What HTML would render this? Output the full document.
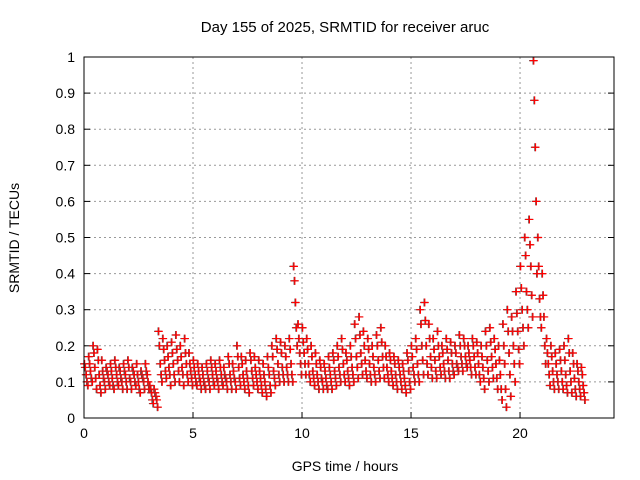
<!DOCTYPE html>
<html><head><meta charset="utf-8"><style>
body{margin:0;background:#fff}
svg{display:block;font-family:"Liberation Sans",sans-serif}
</style></head><body>
<svg id="chart" width="640" height="480">
<text x="345" y="32" text-anchor="middle" font-size="15">Day 155 of 2025, SRMTID for receiver aruc</text>
<text x="345" y="471" text-anchor="middle" font-size="14">GPS time / hours</text>
<text transform="translate(19,238) rotate(-90)" text-anchor="middle" font-size="14">SRMTID / TECUs</text>
<g id="grid"></g><g id="ticks"></g><g id="marks"></g>
<rect x="84" y="57" width="530" height="361" fill="none" stroke="#000"/>
</svg>
<script>
const xTicks=[0,5,10,15,20];
const yTicks=[0,0.1,0.2,0.3,0.4,0.5,0.6,0.7,0.8,0.9,1];
const yTickLabels=["0","0.1","0.2","0.3","0.4","0.5","0.6","0.7","0.8","0.9","1"];
const times=[0,0.2,0.4,0.6,0.8,1,1.2,1.4,1.6,1.8,2,2.2,2.4,2.6,2.8,3,3.2,3.4,3.6,3.8,4,4.2,4.4,4.6,4.8,5,5.2,5.4,5.6,5.8,6,6.2,6.4,6.6,6.8,7,7.2,7.4,7.6,7.8,8,8.2,8.4,8.6,8.8,9,9.2,9.4,9.6,9.8,10,10.2,10.4,10.6,10.8,11,11.2,11.4,11.6,11.8,12,12.2,12.4,12.6,12.8,13,13.2,13.4,13.6,13.8,14,14.2,14.4,14.6,14.8,15,15.2,15.4,15.6,15.8,16,16.2,16.4,16.6,16.8,17,17.2,17.4,17.6,17.8,18,18.2,18.4,18.6,18.8,19,19.2,19.4,19.6,19.8,20,20.2,20.4,20.6,20.8,21,21.2,21.4,21.6,21.8,22,22.2,22.4,22.6,22.8];
const hiValues=[0.15,0.17,0.2,0.19,0.16,0.14,0.15,0.16,0.14,0.15,0.16,0.14,0.15,0.13,0.15,0.09,0.08,0.24,0.22,0.2,0.21,0.23,0.2,0.22,0.18,0.16,0.15,0.14,0.15,0.16,0.15,0.16,0.14,0.17,0.15,0.2,0.17,0.16,0.18,0.17,0.16,0.15,0.17,0.2,0.22,0.21,0.2,0.22,0.42,0.26,0.25,0.22,0.2,0.18,0.16,0.15,0.17,0.18,0.2,0.22,0.18,0.2,0.26,0.28,0.24,0.22,0.2,0.23,0.25,0.2,0.18,0.17,0.16,0.15,0.18,0.2,0.22,0.3,0.32,0.26,0.22,0.24,0.2,0.22,0.21,0.2,0.23,0.22,0.2,0.22,0.21,0.2,0.24,0.25,0.22,0.2,0.26,0.3,0.28,0.35,0.42,0.5,0.55,0.99,0.5,0.4,0.22,0.2,0.18,0.19,0.2,0.22,0.18,0.15,0.14];
const upperMidValues=[0.14,0.15,0.18,0.16,0.13,0.13,0.13,0.14,0.13,0.13,0.14,0.13,0.12,0.12,0.13,0.08,0.07,0.2,0.19,0.17,0.18,0.19,0.17,0.18,0.15,0.14,0.13,0.12,0.13,0.14,0.13,0.14,0.12,0.15,0.13,0.17,0.15,0.13,0.16,0.14,0.13,0.12,0.14,0.17,0.19,0.18,0.17,0.19,0.38,0.22,0.21,0.19,0.17,0.15,0.14,0.13,0.14,0.16,0.17,0.19,0.16,0.17,0.22,0.23,0.2,0.19,0.17,0.2,0.21,0.17,0.16,0.15,0.14,0.13,0.16,0.17,0.19,0.26,0.27,0.22,0.19,0.2,0.18,0.19,0.18,0.18,0.2,0.2,0.18,0.2,0.18,0.17,0.2,0.21,0.19,0.16,0.2,0.24,0.24,0.29,0.36,0.45,0.48,0.88,0.42,0.34,0.18,0.17,0.15,0.16,0.16,0.18,0.15,0.13,0.12];
const midValues=[0.12,0.13,0.14,0.12,0.11,0.12,0.11,0.12,0.11,0.12,0.11,0.12,0.1,0.11,0.12,0.07,0.06,0.15,0.16,0.14,0.15,0.16,0.14,0.15,0.13,0.12,0.11,0.1,0.11,0.12,0.11,0.12,0.11,0.12,0.11,0.14,0.12,0.11,0.13,0.12,0.11,0.1,0.12,0.13,0.15,0.14,0.14,0.15,0.32,0.18,0.18,0.15,0.13,0.12,0.11,0.11,0.12,0.13,0.14,0.15,0.13,0.14,0.17,0.18,0.16,0.15,0.14,0.16,0.17,0.14,0.13,0.12,0.12,0.11,0.13,0.14,0.15,0.2,0.2,0.17,0.16,0.17,0.15,0.16,0.15,0.15,0.17,0.17,0.16,0.17,0.15,0.14,0.16,0.17,0.15,0.12,0.15,0.18,0.2,0.24,0.3,0.35,0.42,0.75,0.33,0.28,0.15,0.13,0.12,0.13,0.12,0.13,0.11,0.1,0.09];
const lowerMidValues=[0.1,0.11,0.11,0.09,0.1,0.1,0.09,0.1,0.1,0.1,0.1,0.1,0.08,0.1,0.1,0.05,0.05,0.12,0.13,0.12,0.12,0.13,0.12,0.12,0.11,0.1,0.1,0.09,0.1,0.1,0.1,0.1,0.1,0.1,0.1,0.11,0.1,0.09,0.11,0.1,0.09,0.08,0.09,0.11,0.12,0.12,0.12,0.12,0.25,0.15,0.15,0.12,0.11,0.1,0.1,0.09,0.1,0.11,0.12,0.12,0.11,0.12,0.14,0.15,0.13,0.12,0.12,0.13,0.14,0.12,0.11,0.1,0.1,0.09,0.1,0.12,0.12,0.16,0.15,0.14,0.13,0.14,0.13,0.13,0.13,0.14,0.15,0.15,0.14,0.14,0.12,0.11,0.13,0.14,0.11,0.08,0.08,0.12,0.15,0.19,0.25,0.3,0.34,0.6,0.28,0.2,0.12,0.1,0.1,0.1,0.09,0.1,0.08,0.08,0.07];
const loValues=[0.09,0.1,0.08,0.07,0.08,0.09,0.08,0.09,0.08,0.08,0.08,0.09,0.07,0.08,0.08,0.04,0.03,0.1,0.11,0.09,0.1,0.1,0.09,0.1,0.09,0.09,0.08,0.08,0.08,0.09,0.08,0.09,0.08,0.08,0.08,0.09,0.08,0.07,0.09,0.08,0.07,0.06,0.07,0.09,0.1,0.1,0.1,0.1,0.2,0.12,0.12,0.1,0.09,0.08,0.08,0.08,0.08,0.09,0.1,0.1,0.09,0.1,0.11,0.12,0.11,0.1,0.1,0.11,0.11,0.1,0.09,0.08,0.08,0.07,0.08,0.1,0.1,0.12,0.12,0.11,0.11,0.12,0.11,0.11,0.12,0.13,0.13,0.14,0.12,0.12,0.1,0.08,0.1,0.11,0.08,0.05,0.03,0.06,0.1,0.15,0.2,0.25,0.28,0.4,0.25,0.15,0.09,0.08,0.08,0.08,0.07,0.07,0.06,0.06,0.05];

const NS="http://www.w3.org/2000/svg";
const X0=84,X1=614,Y0=418,Y1=57,XMAX=24.31;
const xs=v=>X0+v/XMAX*(X1-X0);
const ys=v=>Y0-v*(Y0-Y1);
function mk(tag,attrs,parent){const e=document.createElementNS(NS,tag);for(const k in attrs)e.setAttribute(k,attrs[k]);parent.appendChild(e);return e;}
const grid=document.getElementById('grid'),tk=document.getElementById('ticks'),marks=document.getElementById('marks');
xTicks.forEach(v=>{
  const x=xs(v);
  if(v>0){const g=mk('line',{x1:x,x2:x,y1:Y1,y2:Y0,stroke:'#999','stroke-dasharray':'2,3'},grid);
  
  }
  mk('line',{x1:x,x2:x,y1:Y0,y2:Y0-6,stroke:'#000'},tk);
  const t=mk('text',{x:x,y:Y0+20,'text-anchor':'middle','font-size':14},tk);t.textContent=v;
  
  
});
yTicks.forEach((v,i)=>{
  const y=ys(v);
  if(v>0&&v<1){const g=mk('line',{x1:X0,x2:X1,y1:y,y2:y,stroke:'#999','stroke-dasharray':'2,3'},grid);
  
  }
  mk('line',{x1:X0,x2:X0+6,y1:y,y2:y,stroke:'#000'},tk);
  mk('line',{x1:X1,x2:X1-6,y1:y,y2:y,stroke:'#000'},tk);
  const t=mk('text',{x:X0-9,y:y+5,'text-anchor':'end','font-size':14},tk);t.textContent=yTickLabels[i];
  
  
});
function plus(x,y,c,name){
  const p=mk('path',{d:`M${x-4},${y}h8M${x},${y-4}v8`,stroke:c,'stroke-width':1.2,fill:'none'},marks);
  
  
}
const series=[[hiValues,0,'hi'],[upperMidValues,0.04,'upper-mid'],[midValues,0.08,'mid'],[lowerMidValues,0.12,'lower-mid'],[loValues,0.16,'lo']];
series.forEach(([vals,off,nm])=>{
  vals.forEach((v,i)=>{
    plus(xs(times[i]+off),ys(v),'#555','gray-point');
    plus(xs(times[i]+off+0.03),ys(v),'#f00','point-'+nm);
  });
});
</script>
</body></html>
